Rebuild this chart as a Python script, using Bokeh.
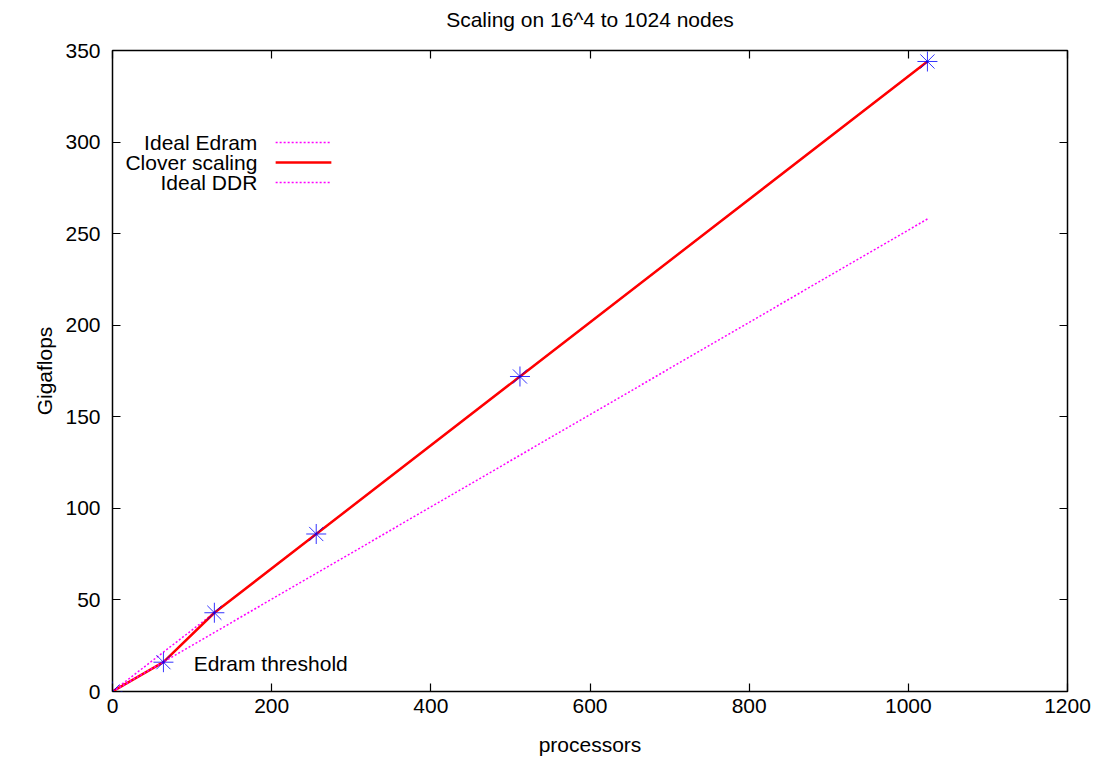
from bokeh.plotting import figure
from bokeh.models import Range1d, LinearAxis, Label, FixedTicker
from bokeh.embed import file_html
from bokeh.resources import INLINE

# ---- data ----
processors = [0, 64, 128, 256, 512, 1024]
clover = [0, 16, 43, 86, 172, 344]
ideal_edram = [0, 21.5, 43, 86, 172, 344]
ideal_ddr = [0, 16.1, 32.25, 64.5, 129, 258]
x_ticks = [0, 200, 400, 600, 800, 1000, 1200]
y_ticks = [0, 50, 100, 150, 200, 250, 300, 350]
legend_labels = ["Ideal Edram", "Clover scaling", "Ideal DDR"]
title_text = "Scaling on 16^4 to 1024 nodes"
annotation_text = "Edram threshold"

FONT = "Liberation Sans"
FS = "21px"

p = figure(width=1095, height=761, output_backend="svg", toolbar_location=None,
           x_range=Range1d(0, 1200), y_range=Range1d(0, 350),
           min_border_left=112, min_border_right=28, min_border_top=50, min_border_bottom=70,
           title=None)
p.background_fill_color = "white"
p.border_fill_color = "white"
p.grid.visible = False
p.outline_line_color = "black"
p.outline_line_width = 1.5
p.outline_line_alpha = 1.0

def style_axis(ax, ticks, show_labels=True):
    ax.axis_line_color = None
    ax.major_tick_in = 8
    ax.major_tick_out = 0
    ax.major_tick_line_color = "black"
    ax.major_tick_line_width = 1.2
    ax.minor_tick_line_color = None
    ax.major_label_text_font = FONT
    ax.major_label_text_color = "black"
    if show_labels:
        ax.major_label_text_font_size = FS
    else:
        ax.major_label_text_font_size = "1px"
        ax.major_label_standoff = 0
        ax.major_label_overrides = {t: "" for t in ticks}

xa = p.xaxis[0]
ya = p.yaxis[0]
xa.ticker = FixedTicker(ticks=x_ticks)
ya.ticker = FixedTicker(ticks=y_ticks)
style_axis(xa, x_ticks)
style_axis(ya, y_ticks)
xa.major_label_standoff = 7
ya.major_label_standoff = 12
xa.axis_label = "processors"
ya.axis_label = "Gigaflops"

top = LinearAxis(ticker=FixedTicker(ticks=x_ticks))
style_axis(top, x_ticks, False)
top.axis_label = title_text          # chart title, drawn as the top axis label
top.axis_label_standoff = 20
p.add_layout(top, "above")
right = LinearAxis(ticker=FixedTicker(ticks=y_ticks))
style_axis(right, y_ticks, False)
p.add_layout(right, "right")

for ax in (xa, ya, top):
    ax.axis_label_text_font = FONT
    ax.axis_label_text_font_size = FS
    ax.axis_label_text_font_style = "normal"
    ax.axis_label_text_color = "black"
xa.axis_label_standoff = 17
ya.axis_label_standoff = 6

# ---- series ----
p.line(processors, ideal_edram, line_color="#ff00ff", line_width=1.5, line_dash="2 2")
p.line(processors, clover, line_color="#ff0000", line_width=2.5)
p.line(processors, ideal_ddr, line_color="#ff00ff", line_width=1.5, line_dash="2 2")
p.scatter(processors, clover, marker="asterisk", size=20, line_color="#0000ff",
          line_width=1, line_alpha=0.8)

# annotation
p.add_layout(Label(x=102, y=15.3, text=annotation_text, text_font=FONT,
                   text_font_size=FS, text_baseline="middle", text_align="left",
                   text_color="black"))

# ---- gnuplot-style legend (label right, sample left) ----
leg_text_x = 182
leg_x0, leg_x1 = 205, 275
leg_rows = [299.8, 288.8, 277.9]
leg_styles = [("#ff00ff", 1.5, "2 2"), ("#ff0000", 2.5, "solid"), ("#ff00ff", 1.5, "2 2")]
for lab, yy, (c, w, d) in zip(legend_labels, leg_rows, leg_styles):
    p.add_layout(Label(x=leg_text_x, y=yy, text=lab, text_font=FONT,
                       text_font_size=FS, text_baseline="middle", text_align="right",
                       text_color="black"))
    p.line([leg_x0, leg_x1], [yy, yy], line_color=c, line_width=w, line_dash=d)

open("out.html", "w").write(file_html(p, INLINE))
